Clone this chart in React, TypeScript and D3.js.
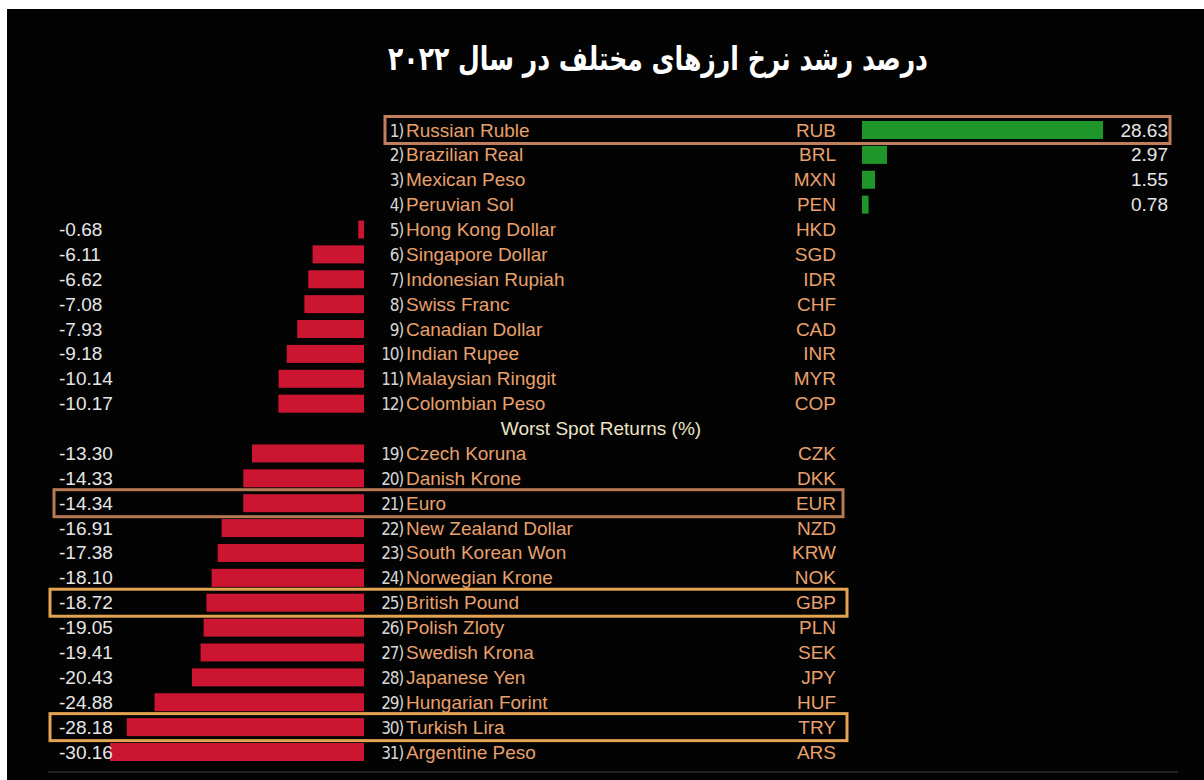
import React from "react";
import * as d3 from "d3";

const title = "درصد رشد نرخ ارزهای مختلف در سال ۲۰۲۲";
const sectionHeader = "Worst Spot Returns (%)";

const ranks = [1, 2, 3, 4, 5, 6, 7, 8, 9, 10, 11, 12, 19, 20, 21, 22, 23, 24, 25, 26, 27, 28, 29, 30, 31];
const names = [
  "Russian Ruble", "Brazilian Real", "Mexican Peso", "Peruvian Sol", "Hong Kong Dollar",
  "Singapore Dollar", "Indonesian Rupiah", "Swiss Franc", "Canadian Dollar", "Indian Rupee",
  "Malaysian Ringgit", "Colombian Peso", "Czech Koruna", "Danish Krone", "Euro",
  "New Zealand Dollar", "South Korean Won", "Norwegian Krone", "British Pound", "Polish Zloty",
  "Swedish Krona", "Japanese Yen", "Hungarian Forint", "Turkish Lira", "Argentine Peso",
];
const codes = [
  "RUB", "BRL", "MXN", "PEN", "HKD", "SGD", "IDR", "CHF", "CAD", "INR", "MYR", "COP",
  "CZK", "DKK", "EUR", "NZD", "KRW", "NOK", "GBP", "PLN", "SEK", "JPY", "HUF", "TRY", "ARS",
];
const values = [
  28.63, 2.97, 1.55, 0.78, -0.68, -6.11, -6.62, -7.08, -7.93, -9.18, -10.14, -10.17,
  -13.3, -14.33, -14.34, -16.91, -17.38, -18.1, -18.72, -19.05, -19.41, -20.43, -24.88, -28.18, -30.16,
];
// highlighted codes and their frame colours
const highlightCodes = ["RUB", "EUR", "GBP", "TRY"];
const highlightColors = ["#c17e5c", "#b87a55", "#e3a452", "#e3a452"];

const W = 1204;
const H = 780;
const FONT = "'Liberation Sans', Arial, sans-serif";

export default function App() {
  // row slots: 12 rows, a header slot, 13 rows
  const slotIndex = values.map((_, i) => (i < 12 ? i : i + 1));
  const y = d3.scaleLinear().domain([0, 25]).range([130, 752]);
  const len = d3.scaleLinear().domain([0, 30]).range([0, 252.6]);
  const negOrigin = 364;
  const posOrigin = 862;
  const barH = 18;

  const fmt = (v: number) => d3.format(".2f")(v).replace("\u2212", "-");

  return (
    <svg
      width={W}
      height={H}
      style={{ position: "absolute", left: 0, top: 0, display: "block" }}
      fontFamily={FONT}
    >
      <rect x={0} y={0} width={W} height={H} fill="#ffffff" />
      <rect x={7} y={9} width={W - 7} height={H - 9} fill="#030303" />

      <text
        x={658}
        y={70}
        textAnchor="middle"
        fill="#ffffff"
        fontSize={33}
        fontWeight="bold"
        fontFamily="'DejaVu Sans', sans-serif"
        direction="rtl"
        textLength={540}
        lengthAdjust="spacingAndGlyphs"
      >
        {title}
      </text>

      {values.map((v, i) => {
        const cy = y(slotIndex[i]);
        const w = len(Math.abs(v));
        return (
          <g key={codes[i]}>
            {v >= 0 ? (
              <rect x={posOrigin} y={cy - barH / 2} width={w} height={barH} fill="#1e962a" />
            ) : (
              <rect x={negOrigin - w} y={cy - barH / 2} width={w} height={barH} fill="#cc1631" />
            )}
            <text
              x={403}
              y={cy + 6.5}
              textAnchor="end"
              fill="#d6d6d6"
              fontSize={17}
              fontFamily="'Liberation Sans Narrow', 'DejaVu Sans Condensed', sans-serif"
              letterSpacing={-1.2}
            >
              {ranks[i] + ")"}
            </text>
            <text x={406} y={cy + 6.5} fill="#e8a06c" fontSize={19}>
              {names[i]}
            </text>
            <text x={836} y={cy + 6.5} textAnchor="end" fill="#e8a06c" fontSize={19}>
              {codes[i]}
            </text>
            {v >= 0 ? (
              <text x={1168} y={cy + 6.5} textAnchor="end" fill="#e6e6e6" fontSize={19}>
                {fmt(v)}
              </text>
            ) : (
              <text x={59} y={cy + 6.5} fill="#e6e6e6" fontSize={19}>
                {fmt(v)}
              </text>
            )}
          </g>
        );
      })}

      <text x={601} y={y(12) + 6.5} textAnchor="middle" fill="#ece4c4" fontSize={19}>
        {sectionHeader}
      </text>

      {highlightCodes.map((c, k) => {
        const i = codes.indexOf(c);
        const cy = y(slotIndex[i]);
        const x0 = c === "RUB" ? 385 : c === "EUR" ? 54 : 50;
        const x1 = c === "RUB" ? 1170 : c === "EUR" ? 843 : 847;
        return (
          <rect
            key={c}
            x={x0}
            y={cy - 13.5}
            width={x1 - x0}
            height={27}
            fill="none"
            stroke={highlightColors[k]}
            strokeWidth={3}
          />
        );
      })}

      <line x1={48} x2={1178} y1={772} y2={772} stroke="#222222" strokeWidth={2} />
    </svg>
  );
}
